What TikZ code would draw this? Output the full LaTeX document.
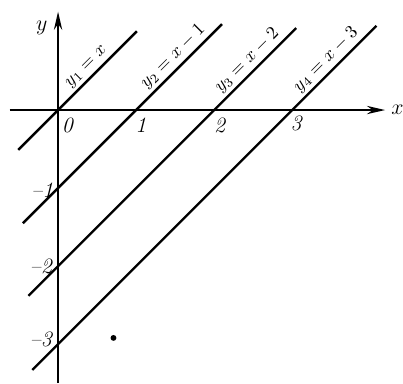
\documentclass[tikz,border=0pt]{standalone}
\usetikzlibrary{arrows.meta}
\begin{document}
\begin{tikzpicture}[x=1.5cm,y=1.5cm]
\useasboundingbox (-0.744,-3.5) rectangle (4.42,1.41);
\tikzset{axis/.style={line width=0.9pt, -{Stealth[length=3.5mm,width=1.6mm]}},
  graph/.style={line width=1.3pt},
  lbl/.style={font=\normalsize, rotate=45, anchor=south, inner sep=2pt},
  num/.style={font=\large\itshape}}

% axes
\draw[axis] (-0.62,0) -- (4.19,0);
\draw[axis] (0,-3.5) -- (0,1.26);
\node[font=\large] (xlab) at (4.35,0) {$x$};
\node[font=\large] (ylab) at (-0.21,1.05) {$y$};

% the four parallel lines
\draw[graph] (-0.51,-0.51) -- (1.01,1.01);
\draw[graph] (-0.45,-1.45) -- (2.1,1.1);
\draw[graph] (-0.38,-2.38) -- (3.05,1.05);
\draw[graph] (-0.33,-3.33) -- (4.08,1.08);

% labels of the lines
\node[lbl] (l1) at (0.46,0.46) {$y_1=x$};
\node[lbl] (l2) at (1.58,0.58) {$y_2=x-1$};
\node[lbl] (l3) at (2.53,0.53) {$y_3=x-2$};
\node[lbl] (l4) at (3.54,0.54) {$y_4=x-3$};

% numbers on the axes
\node[num] (n0) at (0.12,-0.2) {0};
\node[num] (n1) at (1.06,-0.2) {1};
\node[num] (n2) at (2.07,-0.2) {2};
\node[num] (n3) at (3.05,-0.17) {3};
\node[num] (m1) at (-0.2,-1.03) {--1};
\node[num] (m2) at (-0.22,-2.0) {--2};
\node[num] (m3) at (-0.22,-2.94) {--3};

\fill (0.71,-2.92) circle (1.6pt);
\end{tikzpicture}
\end{document}
